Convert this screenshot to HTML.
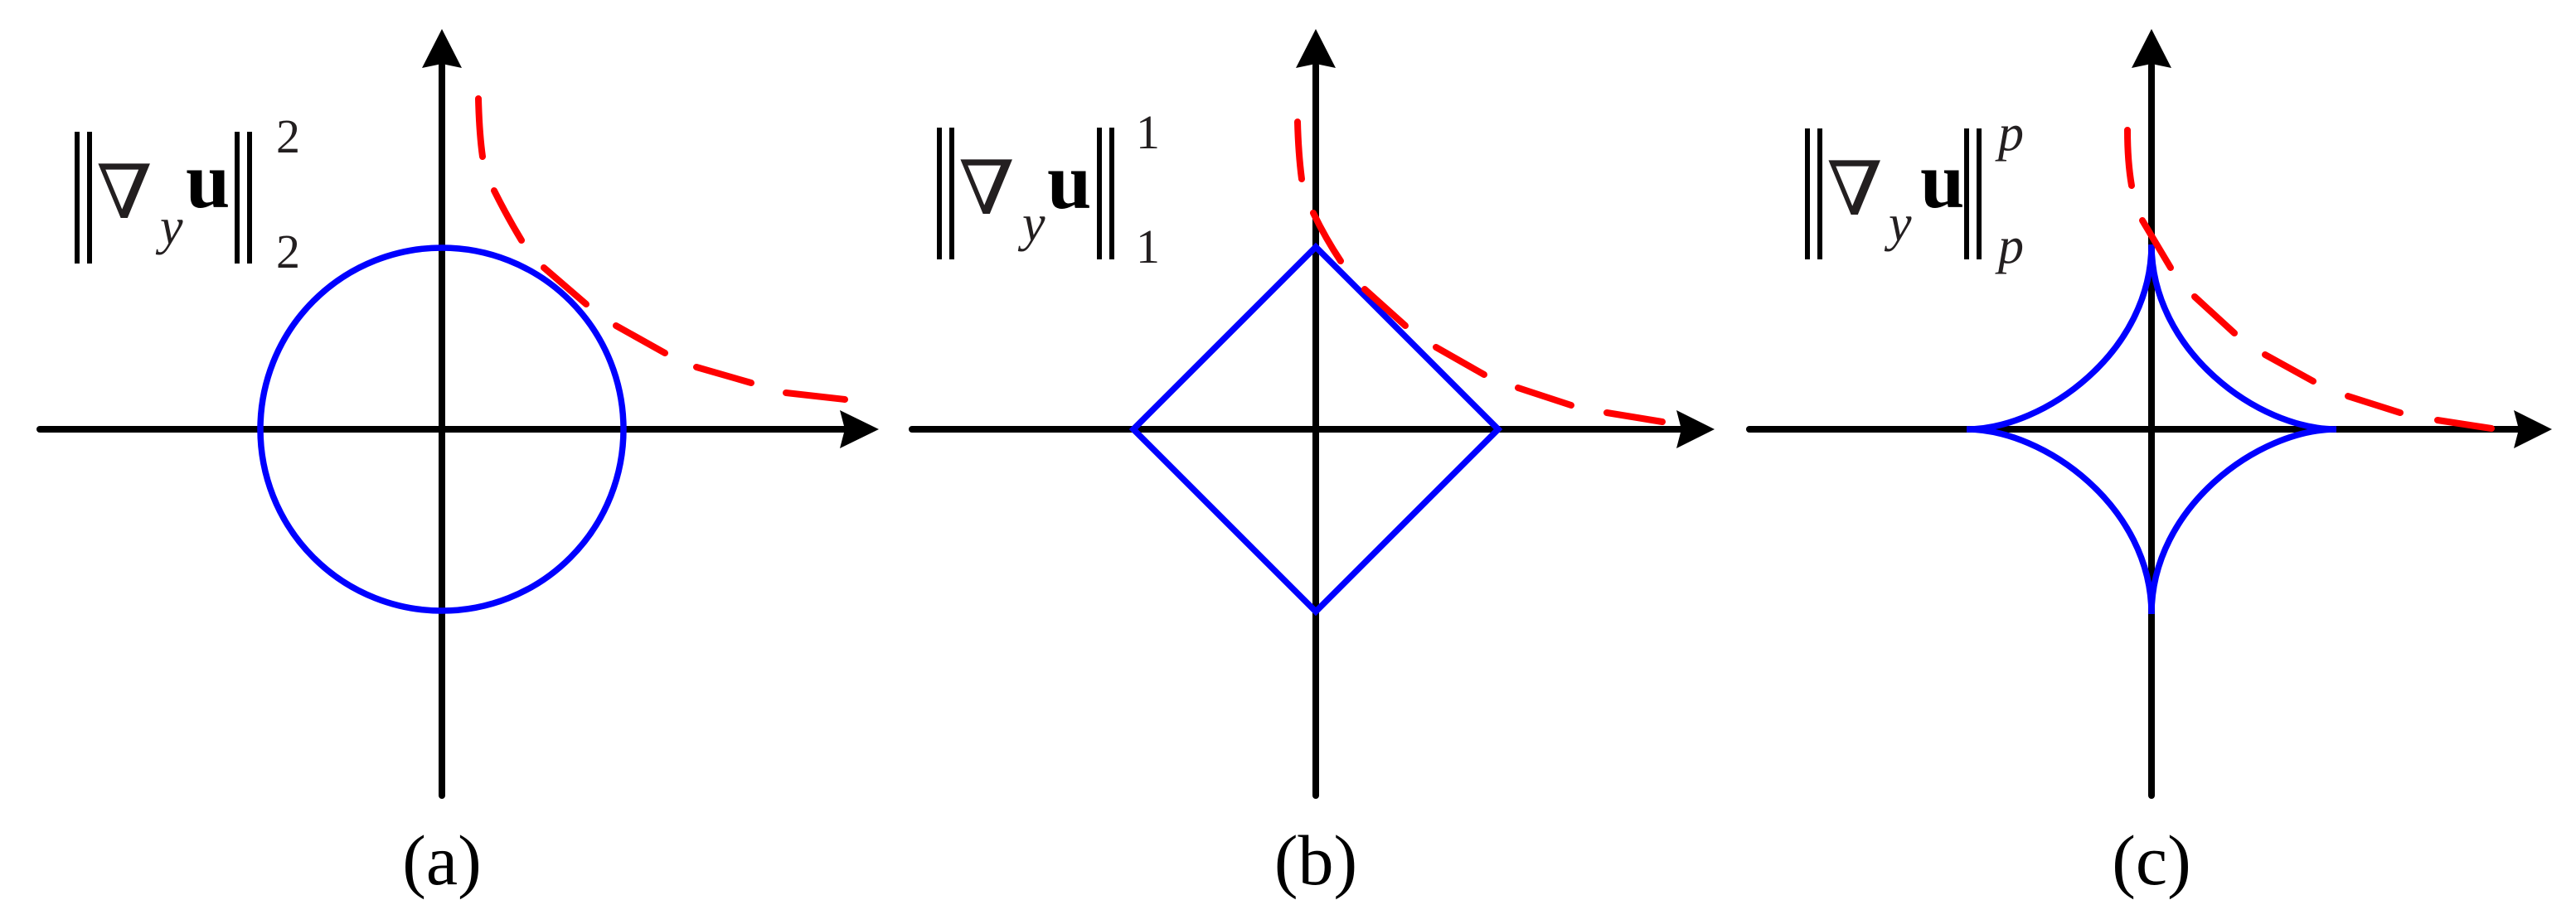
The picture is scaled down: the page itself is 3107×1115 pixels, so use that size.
<!DOCTYPE html>
<html><head><meta charset="utf-8"><style>
html,body{margin:0;padding:0;background:#fff;}
svg{display:block;}
</style></head><body>
<svg width="3107" height="1115" viewBox="0 0 3107 1115" xmlns="http://www.w3.org/2000/svg">
<g stroke="#000" stroke-width="8" fill="none" stroke-linecap="round">
<line x1="48" y1="518" x2="1020" y2="518"/>
<line x1="533" y1="79" x2="533" y2="960"/>
<line x1="1100" y1="518" x2="2028" y2="518"/>
<line x1="1587" y1="79" x2="1587" y2="960"/>
<line x1="2110" y1="518" x2="3038" y2="518"/>
<line x1="2595" y1="79" x2="2595" y2="960"/>
</g>
<g fill="#000">
<polygon points="1060,518 1013,495 1019,518 1013,541"/>
<polygon points="2068,518 2022,495 2028,518 2022,541"/>
<polygon points="3078,518 3032,495 3038,518 3032,541"/>
<polygon points="533,35 509,82 533,77 557,82"/>
<polygon points="1587,35 1563,82 1587,77 1611,82"/>
<polygon points="2595,35 2571,82 2595,77 2619,82"/>
</g>
<g stroke="#0000ff" stroke-width="7.5" fill="none">
<circle cx="533" cy="518" r="219"/>
<polygon points="1367,518 1587,298 1807,518 1587,738" stroke-linejoin="miter"/>
<path d="M2818,518 C2724,518 2595,424 2595,295 C2595,424 2466,518 2372,518 C2466,518 2595,612 2595,741 C2595,612 2724,518 2818,518"/>
</g>
<g stroke="#ff0000" stroke-width="8" stroke-linecap="round" fill="none">
<path d="M577,119 Q578,160 582,189"/>
<path d="M596,230 Q612,262 629,290"/>
<line x1="656" y1="323" x2="707" y2="367"/>
<line x1="743" y1="393" x2="802" y2="426"/>
<line x1="840" y1="443" x2="906" y2="462"/>
<line x1="948" y1="474" x2="1019" y2="482"/>

<path d="M1565,147 Q1566,185 1570,216"/>
<path d="M1584,257 Q1599,288 1617,315"/>
<line x1="1646" y1="349" x2="1695" y2="393"/>
<line x1="1732" y1="419" x2="1790" y2="452"/>
<line x1="1831" y1="468" x2="1895" y2="489"/>
<line x1="1938" y1="498" x2="2005" y2="509"/>

<path d="M2566,157 Q2566,195 2571,224"/>
<line x1="2584" y1="266" x2="2618" y2="323"/>
<line x1="2647" y1="358" x2="2695" y2="402"/>
<line x1="2732" y1="428" x2="2790" y2="460"/>
<line x1="2832" y1="478" x2="2895" y2="498"/>
<line x1="2940" y1="507" x2="3005" y2="517"/>
</g>
<g stroke="#000" stroke-width="6">
<line x1="93" y1="159" x2="93" y2="318"/><line x1="108" y1="159" x2="108" y2="318"/>
<line x1="286" y1="159" x2="286" y2="318"/><line x1="301" y1="159" x2="301" y2="318"/>
<line x1="1133" y1="154" x2="1133" y2="313"/><line x1="1148" y1="154" x2="1148" y2="313"/>
<line x1="1326" y1="154" x2="1326" y2="313"/><line x1="1341" y1="154" x2="1341" y2="313"/>
<line x1="2180" y1="155" x2="2180" y2="313"/><line x1="2195" y1="155" x2="2195" y2="313"/>
<line x1="2372" y1="155" x2="2372" y2="313"/><line x1="2387" y1="155" x2="2387" y2="313"/>
</g>
<g fill="#231f20">
<text x="116" y="263" font-family="DejaVu Serif, serif" font-size="90" textLength="68" lengthAdjust="spacingAndGlyphs">∇</text>
<text x="193" y="294" font-family="Liberation Serif, serif" font-style="italic" font-size="62">y</text>
<text x="224" y="250" font-family="Liberation Serif, serif" font-weight="bold" font-size="96" fill="#000">u</text>
<text x="333" y="184" font-family="Liberation Serif, serif" font-size="58">2</text>
<text x="333" y="323" font-family="Liberation Serif, serif" font-size="58">2</text>

<text x="1156" y="258" font-family="DejaVu Serif, serif" font-size="90" textLength="68" lengthAdjust="spacingAndGlyphs">∇</text>
<text x="1233" y="290" font-family="Liberation Serif, serif" font-style="italic" font-size="62">y</text>
<text x="1263" y="251" font-family="Liberation Serif, serif" font-weight="bold" font-size="96" fill="#000">u</text>
<text x="1370" y="179" font-family="Liberation Serif, serif" font-size="58">1</text>
<text x="1370" y="317" font-family="Liberation Serif, serif" font-size="58">1</text>

<text x="2203" y="259" font-family="DejaVu Serif, serif" font-size="90" textLength="68" lengthAdjust="spacingAndGlyphs">∇</text>
<text x="2278" y="290" font-family="Liberation Serif, serif" font-style="italic" font-size="62">y</text>
<text x="2316" y="250" font-family="Liberation Serif, serif" font-weight="bold" font-size="96" fill="#000">u</text>
<text x="2410" y="181" font-family="Liberation Serif, serif" font-style="italic" font-size="62">p</text>
<text x="2410" y="317" font-family="Liberation Serif, serif" font-style="italic" font-size="62">p</text>
</g>
<g fill="#000" font-family="Liberation Serif, serif" font-size="86" text-anchor="middle">
<text x="533" y="1067">(a)</text>
<text x="1587" y="1067">(b)</text>
<text x="2595" y="1067">(c)</text>
</g>
</svg>
</body></html>
